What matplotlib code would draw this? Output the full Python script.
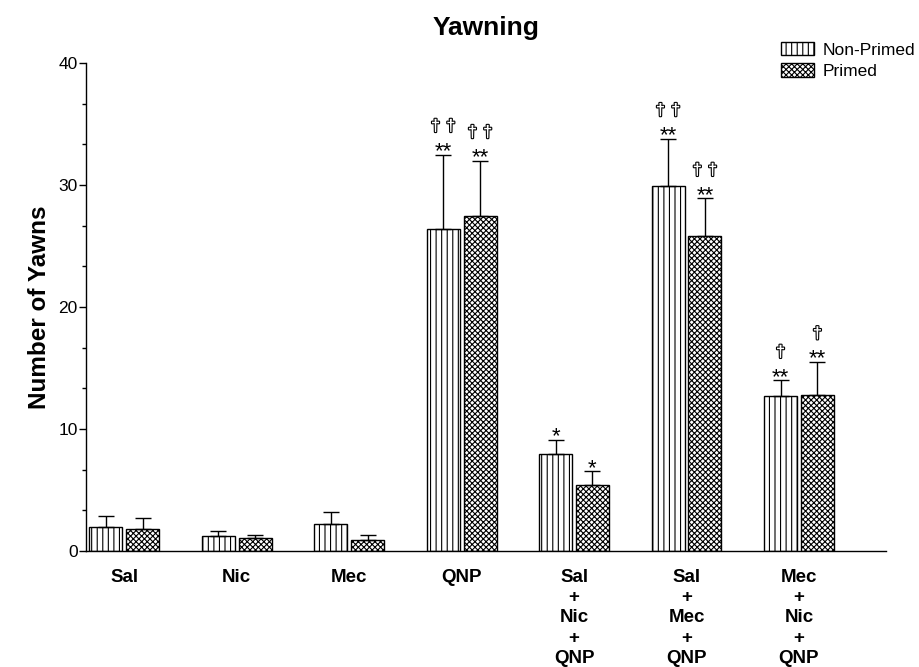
import numpy as np
import matplotlib
matplotlib.use("Agg")
import matplotlib.pyplot as plt
import matplotlib.patheffects as pe
from matplotlib.patches import Patch
from matplotlib.ticker import MultipleLocator

plt.rcParams["font.family"] = ["Liberation Sans", "DejaVu Sans"]
plt.rcParams["hatch.linewidth"] = 0.8

# ── Data ──────────────────────────────────────────────────────────────
groups = ["Sal", "Nic", "Mec", "QNP",
          "Sal\n+\nNic\n+\nQNP", "Sal\n+\nMec\n+\nQNP", "Mec\n+\nNic\n+\nQNP"]
non_primed = [1.97, 1.23, 2.21, 26.4, 7.98, 29.9, 12.7]
non_primed_err = [0.90, 0.41, 0.99, 6.1, 1.14, 3.9, 1.28]
primed = [1.83, 1.04, 0.93, 27.5, 5.44, 25.8, 12.8]
primed_err = [0.85, 0.27, 0.41, 4.5, 1.09, 3.1, 2.7]

# significance: asterisks vs saline, daggers vs nicotine/mecamylamine
stars_np = ["", "", "", "**", "*", "**", "**"]
stars_p = ["", "", "", "**", "*", "**", "**"]
dags_np = [0, 0, 0, 2, 0, 2, 1]
dags_p = [0, 0, 0, 2, 0, 2, 1]

# ── Figure ────────────────────────────────────────────────────────────
fig = plt.figure(figsize=(9.19, 6.67), dpi=100)
ax = fig.add_axes([0.0936, 0.174, 0.870, 0.7315])

x = np.arange(len(groups))
w = 0.293
off = 0.164

err_kw = dict(ecolor="black", elinewidth=1.0, capsize=6, capthick=1.0)
ax.bar(x - off, non_primed, w, yerr=[np.zeros(len(x)), non_primed_err],
       color="white", edgecolor="black", linewidth=1.0, hatch="|||",
       error_kw=err_kw, zorder=2)
ax.bar(x + off, primed, w, yerr=[np.zeros(len(x)), primed_err],
       color="white", edgecolor="black", linewidth=1.0, hatch="xxxxxx",
       error_kw=err_kw, zorder=2)

outline = [pe.withStroke(linewidth=1.6, foreground="black")]

for i in range(len(x)):
    for xc, top, st, nd in [
        (x[i] - off, non_primed[i] + non_primed_err[i], stars_np[i], dags_np[i]),
        (x[i] + off, primed[i] + primed_err[i], stars_p[i], dags_p[i]),
    ]:
        if st:
            ax.annotate(st, (xc, top), xytext=(0, -2), textcoords="offset points",
                        ha="center", va="baseline", fontsize=16)
        for k in range(nd):
            dx = (k - (nd - 1) / 2) * 11
            ax.annotate("\u2020", (xc, top), xytext=(dx, 17),
                        textcoords="offset points", ha="center", va="baseline",
                        fontsize=12, fontweight="bold", color="white",
                        path_effects=outline)

ax.set_xlim(-0.34, 6.77)
ax.set_ylim(0, 40)
ax.yaxis.set_major_locator(MultipleLocator(10))
ax.yaxis.set_minor_locator(MultipleLocator(10 / 3))
ax.tick_params(axis="y", which="major", direction="out", length=5,
               width=1, labelsize=12.5, pad=1)
ax.tick_params(axis="y", which="minor", direction="out", length=3, width=1)
ax.set_xticks(x)
ax.set_xticklabels(groups, fontsize=13.5, fontweight="bold", linespacing=1.25,
                   va="top")
ax.tick_params(axis="x", length=0, pad=13)

for s in ["top", "right"]:
    ax.spines[s].set_visible(False)
ax.spines["left"].set_linewidth(1.0)
ax.spines["bottom"].set_linewidth(1.0)

ax.set_ylabel("Number of Yawns", fontsize=17.5, fontweight="bold", labelpad=5)
ax.set_title("Yawning", fontsize=19, fontweight="bold", pad=20)

handles = [Patch(facecolor="white", edgecolor="black", hatch="|||", label="Non-Primed"),
           Patch(facecolor="white", edgecolor="black", hatch="xxxxxx", label="Primed")]
fig.legend(handles=handles, loc="upper right", bbox_to_anchor=(1.003, 0.948),
           frameon=False, fontsize=12.5, handlelength=1.9, handleheight=0.85,
           handletextpad=0.45, labelspacing=0.3, borderaxespad=0)

fig.savefig("out.png", dpi=100)
